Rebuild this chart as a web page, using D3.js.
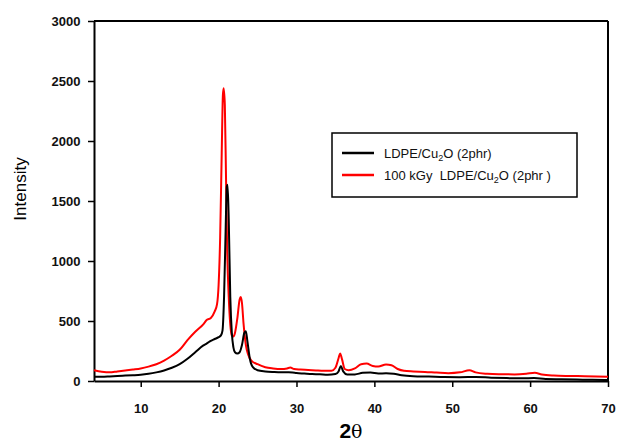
<!DOCTYPE html>
<html>
<head>
<meta charset="utf-8">
<script src="https://cdn.jsdelivr.net/npm/d3@7"></script>
<style>
  body { margin: 0; background: #fff; }
  text { font-family: Arial, "Liberation Sans", sans-serif; }
</style>
</head>
<body>
<div id="chart"></div>
<script>
// LDPE/Cu2O (2phr) - black trace
let blackTheta = [4, 5, 6, 7, 8, 9, 10, 11, 12, 13, 14, 15, 16, 17, 18, 18.5, 19, 19.5, 20, 20.3, 20.5, 20.7, 20.9, 21.05, 21.15, 21.3, 21.5, 21.7, 21.9, 22.1, 22.4, 22.7, 23.0, 23.3, 23.5, 23.7, 24.0, 24.4, 25, 26, 27, 28, 29, 29.5, 30, 31, 32, 33, 34, 35, 35.4, 35.7, 36.0, 36.5, 37.5, 38.5, 39.5, 40.5, 41.5, 42.5, 43.5, 45, 47, 49, 51, 53, 55, 57, 59, 60.5, 62, 64, 66, 68, 70];
let blackInt = [36, 35, 38, 42, 45, 48, 52, 60, 72, 88, 110, 140, 185, 240, 295, 314, 335, 350, 365, 380, 420, 700, 1250, 1620, 1635, 1350, 700, 400, 280, 240, 230, 240, 300, 400, 415, 330, 190, 115, 90, 80, 75, 72, 72, 70, 66, 62, 58, 56, 52, 58, 80, 125, 80, 55, 55, 68, 70, 62, 65, 60, 48, 40, 37, 33, 32, 34, 28, 24, 22, 24, 16, 14, 12, 10, 9];

// 100 kGy LDPE/Cu2O (2phr) - red trace
let redTheta = [4, 5, 6, 7, 8, 9, 10, 11, 12, 13, 14, 15, 16, 17, 18, 18.5, 19, 19.5, 19.8, 20.0, 20.2, 20.4, 20.55, 20.65, 20.8, 20.95, 21.1, 21.3, 21.5, 21.7, 21.9, 22.1, 22.4, 22.7, 22.85, 23.0, 23.2, 23.5, 23.8, 24.2, 25, 26, 27, 28, 28.8, 29.2, 29.7, 30.5, 31.5, 32.5, 33.5, 34.5, 35, 35.4, 35.6, 35.85, 36.2, 36.7, 37.5, 38.3, 39, 39.8, 40.5, 41.5, 42.2, 43, 43.8, 45, 46.5, 48, 49.5, 51, 52.2, 53, 54.5, 56, 58, 59.5, 60.6, 61.5, 63, 65, 67, 70];
let redInt = [90, 78, 72, 80, 88, 96, 105, 120, 140, 170, 210, 260, 340, 410, 470, 510, 525, 580, 640, 800, 1200, 1900, 2380, 2440, 2300, 1700, 1100, 700, 470, 380, 370, 400, 520, 680, 700, 650, 480, 300, 220, 170, 140, 115, 105, 100, 105, 112, 100, 95, 92, 88, 85, 85, 110, 190, 230, 180, 100, 90, 105, 140, 145, 125, 120, 138, 132, 100, 85, 80, 76, 70, 65, 72, 90, 72, 60, 56, 55, 60, 68, 55, 46, 42, 40, 36];

let xTicks = [10, 20, 30, 40, 50, 60, 70];
let yTicks = [0, 500, 1000, 1500, 2000, 2500, 3000];
let seriesNames = ["LDPE/Cu2O (2phr)", "100 kGy  LDPE/Cu2O (2phr )"];
let seriesColors = ["#000000", "#ff0000"];

let width = 618, height = 441;
let margin = {top: 21, right: 10, bottom: 60, left: 94};

let svg = d3.select("#chart").append("svg")
    .attr("width", width)
    .attr("height", height);

let x = d3.scaleLinear()
    .domain([4, 70])
    .range([margin.left, width - margin.right]);

let y = d3.scaleLinear()
    .domain([0, 3000])
    .range([height - margin.bottom, margin.top]);

// axes
let xAxis = svg.append("g")
    .attr("transform", `translate(0, ${height - margin.bottom})`)
    .call(d3.axisBottom(x).tickValues(xTicks).tickFormat(d3.format("d")).tickSize(6).tickSizeOuter(0));

let yAxis = svg.append("g")
    .attr("transform", `translate(${margin.left}, 0)`)
    .call(d3.axisLeft(y).tickValues(yTicks).tickFormat(d3.format("d")).tickSize(6).tickSizeOuter(0));

[xAxis, yAxis].forEach(function(a){
    a.select(".domain").attr("stroke", "#000").attr("stroke-width", 2);
    a.selectAll(".tick line").attr("stroke", "#000").attr("stroke-width", 1.5);
    a.selectAll(".tick text")
        .attr("fill", "#111")
        .style("font-size", "13px")
        .style("font-weight", "bold")
        .style("font-family", "Arial, 'Liberation Sans', sans-serif");
});
xAxis.selectAll(".tick text").attr("dy", "1.75em");
yAxis.selectAll(".tick text").attr("dx", "-0.35em");

// top and right frame
svg.append("line")
    .attr("x1", margin.left).attr("x2", width - margin.right)
    .attr("y1", margin.top).attr("y2", margin.top)
    .attr("stroke", "#000").attr("stroke-width", 2);
svg.append("line")
    .attr("x1", width - margin.right).attr("x2", width - margin.right)
    .attr("y1", margin.top).attr("y2", height - margin.bottom)
    .attr("stroke", "#000").attr("stroke-width", 2);

// traces
let line = d3.line()
    .x(d => x(d[0]))
    .y(d => y(d[1]))
    .curve(d3.curveMonotoneX);

let blackData = blackTheta.map((t, i) => [t, blackInt[i]]);
let redData = redTheta.map((t, i) => [t, redInt[i]]);

svg.append("path")
    .datum(redData)
    .attr("fill", "none")
    .attr("stroke", seriesColors[1])
    .attr("stroke-width", 2)
    .attr("d", line);

svg.append("path")
    .datum(blackData)
    .attr("fill", "none")
    .attr("stroke", seriesColors[0])
    .attr("stroke-width", 2)
    .attr("d", line);

// axis titles
let xTitle = svg.append("text")
    .attr("x", (margin.left + width - margin.right) / 2)
    .attr("y", 438)
    .attr("text-anchor", "middle")
    .style("font-size", "21px");
xTitle.append("tspan").style("font-weight", "bold").text("2");
xTitle.append("tspan").style("font-family", "'DejaVu Serif', serif").style("font-size", "19px").text("θ");

svg.append("text")
    .attr("transform", "translate(26, 189) rotate(-90)")
    .attr("text-anchor", "middle")
    .style("font-size", "17px")
    .text("Intensity");

// legend
let legend = svg.append("g");
legend.append("rect")
    .attr("x", 332).attr("y", 133)
    .attr("width", 245).attr("height", 64)
    .attr("fill", "#fff")
    .attr("stroke", "#000")
    .attr("stroke-width", 1.5);

let legendY = [153, 175];
seriesNames.forEach(function(name, i){
    legend.append("line")
        .attr("x1", 342).attr("x2", 374)
        .attr("y1", legendY[i]).attr("y2", legendY[i])
        .attr("stroke", seriesColors[i])
        .attr("stroke-width", 2.5);
    let t = legend.append("text")
        .attr("x", 384)
        .attr("y", legendY[i] + 4.5)
        .style("font-size", "13px")
        .style("white-space", "pre")
        .attr("xml:space", "preserve")
        .attr("fill", "#111");
    let parts = name.split("Cu2O");
    t.append("tspan").text(parts[0] + "Cu");
    t.append("tspan").attr("dy", 3).style("font-size", "9px").text("2");
    t.append("tspan").attr("dy", -3).text("O" + parts[1]);
});
</script>
</body>
</html>
